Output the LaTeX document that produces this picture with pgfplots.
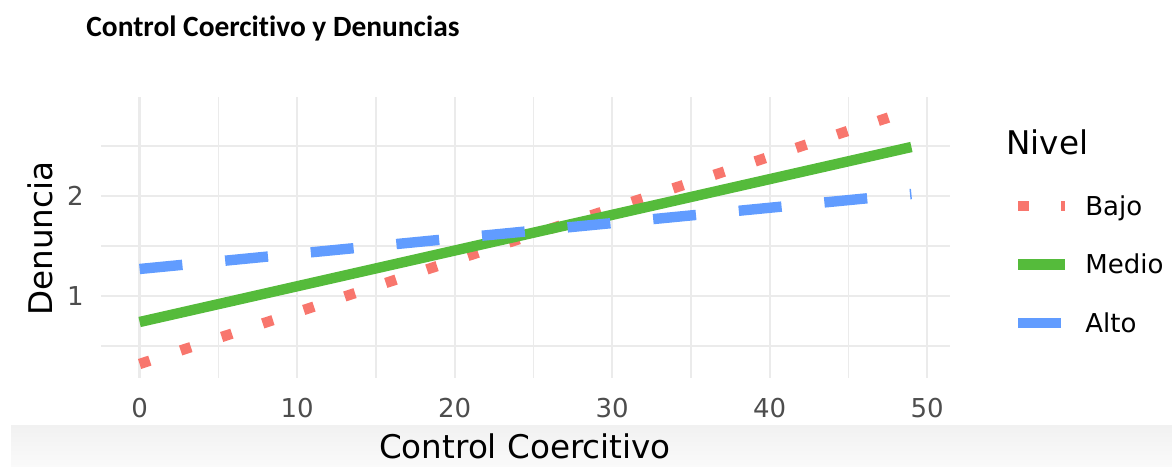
\documentclass[border=0pt]{standalone}
\usepackage{fontspec}
\setmainfont{DejaVu Sans}
\newfontfamily\titlefont{Carlito}[Ligatures=CommonOff]
\usepackage{pgfplots}
\pgfplotsset{compat=1.18}

\definecolor{cBajo}{HTML}{F8766D}
\definecolor{cMedio}{HTML}{55BB3B}
\definecolor{cAlto}{HTML}{619CFF}
\definecolor{gridc}{HTML}{EBEBEB}
\definecolor{tickc}{HTML}{4D4D4D}

\begin{document}
\begin{tikzpicture}
\useasboundingbox (0,0) rectangle (586pt,233pt);
% light strip at the bottom of the screenshot
\shade[top color=gray!11, bottom color=gray!4] (5.5pt,0) rectangle (586pt,20.5pt);

\begin{axis}[
    at={(50.5pt,44pt)}, anchor=south west,
    scale only axis, width=424.5pt, height=140.5pt,
    xmin=-2.45, xmax=51.45, ymin=0.18, ymax=2.99,
    axis line style={draw=none},
    major tick length=0pt, minor tick length=0pt,
    xtick={0,10,...,50}, ytick={1,2},
    minor xtick={5,15,...,45}, minor ytick={0.5,1.5,2.5},
    grid=both,
    major grid style={gridc, line width=1.1pt},
    minor grid style={gridc, line width=0.7pt},
    /pgf/number format/assume math mode=true,
    ticklabel style={font=\fontsize{13}{15}\selectfont, text=tickc,
        inner sep=0pt, text height=9.5pt, text depth=0pt},
    xticklabel style={anchor=north, yshift=-10pt},
    yticklabel style={anchor=east, xshift=-8.5pt},
    legend style={at={(1.0742,0.6459)}, anchor=north west, draw=none, fill=none,
        inner sep=0pt, outer sep=0pt, row sep=19.75pt, column sep=7.5pt,
        font=\fontsize{13}{15}\selectfont,
        nodes={inner sep=0pt, text height=9.5pt, text depth=0pt}},
    legend cell align=left,
    legend image code/.code={\draw[#1] (0pt,0pt) -- (23.5pt,0pt);},
]
\addplot[cBajo, line width=5.2pt, dash pattern=on 5.4pt off 16.2pt]
    coordinates {(0,0.32) (49,2.86)};
\addlegendentry{Bajo}
\addplot[cMedio, line width=5.2pt]
    coordinates {(0,0.74) (49,2.49)};
\addlegendentry{Medio}
\addplot[cAlto, line width=5.2pt, dash pattern=on 21.5pt off 21.5pt]
    coordinates {(0,1.27) (49,2.02)};
\addlegendentry{Alto}
\end{axis}

\node[anchor=base west, inner sep=0pt, font=\titlefont\bfseries\fontsize{14.7}{17}\selectfont]
    at (43pt,214.7pt) {Control Coercitivo y Denuncias};
\node[anchor=base, inner sep=0pt, font=\fontsize{16.3}{19}\selectfont]
    at (262.5pt,4pt) {Control Coercitivo};
\node[rotate=90, anchor=base, inner sep=0pt, font=\fontsize{16.3}{19}\selectfont]
    at (26pt,113.75pt) {Denuncia};
\node[anchor=base west, inner sep=0pt, font=\fontsize{16.3}{19}\selectfont]
    at (503pt,155.5pt) {Nivel};
\end{tikzpicture}
\end{document}
